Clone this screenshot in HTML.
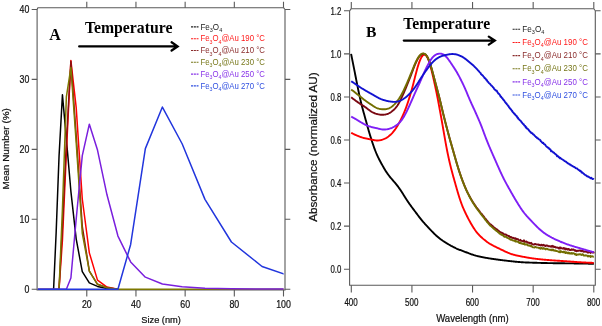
<!DOCTYPE html><html><head><meta charset="utf-8"><style>html,body{margin:0;padding:0;background:#fff;}svg{display:block;} svg{will-change:transform}</style></head><body>
<svg width="602" height="326" viewBox="0 0 602 326">
<rect width="602" height="326" fill="#fff"/>
<path d="M37.1,9.5 L37.1,290 L285,290 L285,9.5 M37.6,7.7 L283.5,7.7 M37.1,9.5 L37.9,7.7 M283.5,7.7 L285,9.5" fill="none" stroke="#5a5a5a" stroke-width="1.1"/><path d="M31.7,289.20 L37.1,289.20 M285,289.20 L290.3,289.20 M31.7,219.27 L37.1,219.27 M285,219.27 L290.3,219.27 M31.7,149.35 L37.1,149.35 M285,149.35 L290.3,149.35 M31.7,79.42 L37.1,79.42 M285,79.42 L290.3,79.42 M31.7,9.50 L37.1,9.50 M285,9.50 L290.3,9.50 M86.78,290 L86.78,296.6 M86.78,1.8 L86.78,7.7 M135.96,290 L135.96,296.6 M135.96,1.8 L135.96,7.7 M185.14,290 L185.14,296.6 M185.14,1.8 L185.14,7.7 M234.32,290 L234.32,296.6 M234.32,1.8 L234.32,7.7 M283.50,290 L283.50,296.6 M283.50,1.8 L283.50,7.7 " fill="none" stroke="#5a5a5a" stroke-width="1.1"/>
<text x="29.3" y="292.5" font-size="10.3" text-anchor="end" fill="#111" font-weight="normal" font-family='"Liberation Sans", sans-serif' textLength="4.9" lengthAdjust="spacingAndGlyphs" stroke="#111" stroke-width="0.22" >0</text>
<text x="29.3" y="222.575" font-size="10.3" text-anchor="end" fill="#111" font-weight="normal" font-family='"Liberation Sans", sans-serif' textLength="9.8" lengthAdjust="spacingAndGlyphs" stroke="#111" stroke-width="0.22" >10</text>
<text x="29.3" y="152.65" font-size="10.3" text-anchor="end" fill="#111" font-weight="normal" font-family='"Liberation Sans", sans-serif' textLength="9.8" lengthAdjust="spacingAndGlyphs" stroke="#111" stroke-width="0.22" >20</text>
<text x="29.3" y="82.72499999999998" font-size="10.3" text-anchor="end" fill="#111" font-weight="normal" font-family='"Liberation Sans", sans-serif' textLength="9.8" lengthAdjust="spacingAndGlyphs" stroke="#111" stroke-width="0.22" >30</text>
<text x="29.3" y="12.8" font-size="10.3" text-anchor="end" fill="#111" font-weight="normal" font-family='"Liberation Sans", sans-serif' textLength="9.8" lengthAdjust="spacingAndGlyphs" stroke="#111" stroke-width="0.22" >40</text>
<text x="86.78" y="307.8" font-size="10.3" text-anchor="middle" fill="#111" font-weight="normal" font-family='"Liberation Sans", sans-serif' textLength="9.8" lengthAdjust="spacingAndGlyphs" stroke="#111" stroke-width="0.22" >20</text>
<text x="135.96" y="307.8" font-size="10.3" text-anchor="middle" fill="#111" font-weight="normal" font-family='"Liberation Sans", sans-serif' textLength="9.8" lengthAdjust="spacingAndGlyphs" stroke="#111" stroke-width="0.22" >40</text>
<text x="185.14" y="307.8" font-size="10.3" text-anchor="middle" fill="#111" font-weight="normal" font-family='"Liberation Sans", sans-serif' textLength="9.8" lengthAdjust="spacingAndGlyphs" stroke="#111" stroke-width="0.22" >60</text>
<text x="234.32" y="307.8" font-size="10.3" text-anchor="middle" fill="#111" font-weight="normal" font-family='"Liberation Sans", sans-serif' textLength="9.8" lengthAdjust="spacingAndGlyphs" stroke="#111" stroke-width="0.22" >80</text>
<text x="283.5" y="307.8" font-size="10.3" text-anchor="middle" fill="#111" font-weight="normal" font-family='"Liberation Sans", sans-serif' textLength="14.700000000000001" lengthAdjust="spacingAndGlyphs" stroke="#111" stroke-width="0.22" >100</text>
<text x="141.3" y="323" font-size="9.6" text-anchor="start" fill="#111" font-weight="normal" font-family='"Liberation Sans", sans-serif' textLength="39.6" lengthAdjust="spacingAndGlyphs" stroke="#111" stroke-width="0.22" >Size (nm)</text>
<g transform="translate(9.0,189.6) rotate(-90)"><text x="0" y="0" font-size="9.5" text-anchor="start" fill="#111" font-weight="normal" font-family='"Liberation Sans", sans-serif' textLength="81.5" lengthAdjust="spacingAndGlyphs" stroke="#111" stroke-width="0.22" >Mean Number (%)</text></g>
<defs><clipPath id="ca"><rect x="37.6" y="0" width="246" height="291"/></clipPath><clipPath id="cb"><rect x="350" y="0" width="245" height="290"/></clipPath></defs>
<g clip-path="url(#ca)" fill="none" stroke-width="1.5" stroke-linejoin="round">
<path d="M53.59,289.20 L56.12,233.26 L59.04,156.34 L62.44,94.81 L66.37,138.86 L70.89,191.31 L76.18,238.85 L82.28,271.72 L89.34,282.91 L97.50,286.40 L106.97,288.50 L117.94,289.20" stroke="#000000"/>
<path d="M59.04,289.20 L62.44,240.25 L66.37,152.85 L70.89,60.55 L76.18,107.39 L82.28,199.00 L89.34,252.84 L97.50,280.11 L106.97,287.10 L117.94,289.20" stroke="#ff0000"/>
<path d="M59.04,289.20 L62.44,226.27 L66.37,142.36 L70.89,61.24 L76.18,135.37 L82.28,226.27 L89.34,271.02 L97.50,284.31 L106.97,287.80 L117.94,289.20" stroke="#8b1010"/>
<path d="M37.60,289.20 L49.52,289.20 L51.41,289.20 L53.59,289.20 L56.12,289.20 L59.04,289.20 L62.44,208.79 L66.37,96.91 L70.89,67.54 L76.18,142.36 L82.28,233.26 L89.34,271.02 L97.50,284.31 L106.97,287.80 L117.94,289.20 L130.65,289.20 L145.35,289.20 L162.39,289.20 L182.12,289.20 L204.96,289.20 L231.42,289.20 L262.06,289.20 L297.52,289.20" stroke="#7d7800"/>
<path d="M37.60,289.20 L49.52,289.20 L51.41,289.20 L53.59,289.20 L56.12,289.20 L59.04,289.20 L62.44,289.20 L66.37,289.20 L70.89,278.01 L76.18,219.27 L82.28,155.64 L89.34,124.18 L97.50,150.05 L106.97,194.80 L117.94,236.06 L130.65,261.93 L145.35,277.17 L162.39,284.03 L182.12,286.68 L204.96,288.15 L231.42,288.71 L262.06,288.99 L297.52,289.20" stroke="#7a1fdd"/>
<path d="M37.60,289.20 L49.52,289.20 L51.41,289.20 L53.59,289.20 L56.12,289.20 L59.04,289.20 L62.44,289.20 L66.37,289.20 L70.89,289.20 L76.18,289.20 L82.28,289.20 L89.34,289.20 L97.50,289.20 L106.97,289.20 L117.94,289.20 L130.65,244.45 L145.35,148.65 L162.39,107.05 L182.12,143.76 L204.96,199.35 L231.42,242.00 L262.06,266.47 L297.52,278.71" stroke="#2236dd"/>
</g>
<text x="49.3" y="39.8" font-size="16" text-anchor="start" fill="#000" font-weight="bold" font-family='"Liberation Serif", serif' >A</text>
<text x="84.9" y="32.8" font-size="16.8" text-anchor="start" fill="#000" font-weight="bold" font-family='"Liberation Serif", serif' textLength="87.5" lengthAdjust="spacingAndGlyphs" >Temperature</text>
<path d="M79.2,46.4 L177,46.4 M171.6,42.3 L177.6,46.4 L171.6,50.5" fill="none" stroke="#000" stroke-width="2.3" stroke-linecap="round" stroke-linejoin="miter"/>
<path d="M191,26.90 L198.5,26.90" stroke="#222222" stroke-width="1.1" stroke-dasharray="2.1,0.7"/>
<text x="200.4" y="29.5" font-size="8.9" text-anchor="start" fill="#222222" font-weight="normal" font-family='"Liberation Sans", sans-serif' textLength="21.8" lengthAdjust="spacingAndGlyphs" >Fe<tspan font-size="6.05" dy="2.4">3</tspan><tspan dy="-2.4">O</tspan><tspan font-size="6.05" dy="2.4">4</tspan></text>
<path d="M191,38.70 L198.5,38.70" stroke="#ff1a1a" stroke-width="1.1" stroke-dasharray="2.1,0.7"/>
<text x="200.4" y="41.3" font-size="8.9" text-anchor="start" fill="#ff1a1a" font-weight="normal" font-family='"Liberation Sans", sans-serif' textLength="64.5" lengthAdjust="spacingAndGlyphs" >Fe<tspan font-size="6.05" dy="2.4">3</tspan><tspan dy="-2.4">O</tspan><tspan font-size="6.05" dy="2.4">4</tspan><tspan dy="-2.4">@Au 190 °C</tspan></text>
<path d="M191,50.50 L198.5,50.50" stroke="#8a2c2c" stroke-width="1.1" stroke-dasharray="2.1,0.7"/>
<text x="200.4" y="53.1" font-size="8.9" text-anchor="start" fill="#8a2c2c" font-weight="normal" font-family='"Liberation Sans", sans-serif' textLength="64.5" lengthAdjust="spacingAndGlyphs" >Fe<tspan font-size="6.05" dy="2.4">3</tspan><tspan dy="-2.4">O</tspan><tspan font-size="6.05" dy="2.4">4</tspan><tspan dy="-2.4">@Au 210 °C</tspan></text>
<path d="M191,62.30 L198.5,62.30" stroke="#77771a" stroke-width="1.1" stroke-dasharray="2.1,0.7"/>
<text x="200.4" y="64.9" font-size="8.9" text-anchor="start" fill="#77771a" font-weight="normal" font-family='"Liberation Sans", sans-serif' textLength="64.5" lengthAdjust="spacingAndGlyphs" >Fe<tspan font-size="6.05" dy="2.4">3</tspan><tspan dy="-2.4">O</tspan><tspan font-size="6.05" dy="2.4">4</tspan><tspan dy="-2.4">@Au 230 °C</tspan></text>
<path d="M191,74.10 L198.5,74.10" stroke="#8833e8" stroke-width="1.1" stroke-dasharray="2.1,0.7"/>
<text x="200.4" y="76.7" font-size="8.9" text-anchor="start" fill="#8833e8" font-weight="normal" font-family='"Liberation Sans", sans-serif' textLength="64.5" lengthAdjust="spacingAndGlyphs" >Fe<tspan font-size="6.05" dy="2.4">3</tspan><tspan dy="-2.4">O</tspan><tspan font-size="6.05" dy="2.4">4</tspan><tspan dy="-2.4">@Au 250 °C</tspan></text>
<path d="M191,85.90 L198.5,85.90" stroke="#2f4fe0" stroke-width="1.1" stroke-dasharray="2.1,0.7"/>
<text x="200.4" y="88.5" font-size="8.9" text-anchor="start" fill="#2f4fe0" font-weight="normal" font-family='"Liberation Sans", sans-serif' textLength="64.5" lengthAdjust="spacingAndGlyphs" >Fe<tspan font-size="6.05" dy="2.4">3</tspan><tspan dy="-2.4">O</tspan><tspan font-size="6.05" dy="2.4">4</tspan><tspan dy="-2.4">@Au 270 °C</tspan></text>
<path d="M349.6,10.8 L349.6,285.3 L595.3,285.3 L595.3,10.8 M351.3,8.7 L593.8,8.7 M349.6,10.8 L351.3,8.7 M593.8,8.7 L595.3,10.8" fill="none" stroke="#5a5a5a" stroke-width="1.1"/><path d="M344,269.20 L349.6,269.20 M595.3,269.20 L600.6,269.20 M344,226.13 L349.6,226.13 M595.3,226.13 L600.6,226.13 M344,183.07 L349.6,183.07 M595.3,183.07 L600.6,183.07 M344,140.00 L349.6,140.00 M595.3,140.00 L600.6,140.00 M344,96.93 L349.6,96.93 M595.3,96.93 L600.6,96.93 M344,53.87 L349.6,53.87 M595.3,53.87 L600.6,53.87 M344,10.80 L349.6,10.80 M595.3,10.80 L600.6,10.80 M351.30,285.3 L351.30,292.6 M351.30,2 L351.30,8.7 M411.93,285.3 L411.93,292.6 M411.93,2 L411.93,8.7 M472.55,285.3 L472.55,292.6 M472.55,2 L472.55,8.7 M533.17,285.3 L533.17,292.6 M533.17,2 L533.17,8.7 M593.80,285.3 L593.80,292.6 M593.80,2 L593.80,8.7 " fill="none" stroke="#5a5a5a" stroke-width="1.1"/>
<text x="341.3" y="273.09999999999997" font-size="10.9" text-anchor="end" fill="#111" font-weight="normal" font-family='"Liberation Sans", sans-serif' textLength="10.9" lengthAdjust="spacingAndGlyphs" stroke="#111" stroke-width="0.22" >0.0</text>
<text x="341.3" y="230.03333333333333" font-size="10.9" text-anchor="end" fill="#111" font-weight="normal" font-family='"Liberation Sans", sans-serif' textLength="10.9" lengthAdjust="spacingAndGlyphs" stroke="#111" stroke-width="0.22" >0.2</text>
<text x="341.3" y="186.96666666666667" font-size="10.9" text-anchor="end" fill="#111" font-weight="normal" font-family='"Liberation Sans", sans-serif' textLength="10.9" lengthAdjust="spacingAndGlyphs" stroke="#111" stroke-width="0.22" >0.4</text>
<text x="341.3" y="143.9" font-size="10.9" text-anchor="end" fill="#111" font-weight="normal" font-family='"Liberation Sans", sans-serif' textLength="10.9" lengthAdjust="spacingAndGlyphs" stroke="#111" stroke-width="0.22" >0.6</text>
<text x="341.3" y="100.83333333333331" font-size="10.9" text-anchor="end" fill="#111" font-weight="normal" font-family='"Liberation Sans", sans-serif' textLength="10.9" lengthAdjust="spacingAndGlyphs" stroke="#111" stroke-width="0.22" >0.8</text>
<text x="341.3" y="57.76666666666667" font-size="10.9" text-anchor="end" fill="#111" font-weight="normal" font-family='"Liberation Sans", sans-serif' textLength="10.9" lengthAdjust="spacingAndGlyphs" stroke="#111" stroke-width="0.22" >1.0</text>
<text x="341.3" y="14.700000000000012" font-size="10.9" text-anchor="end" fill="#111" font-weight="normal" font-family='"Liberation Sans", sans-serif' textLength="10.9" lengthAdjust="spacingAndGlyphs" stroke="#111" stroke-width="0.22" >1.2</text>
<text x="351.1" y="306.0" font-size="10.9" text-anchor="middle" fill="#111" font-weight="normal" font-family='"Liberation Sans", sans-serif' textLength="13.4" lengthAdjust="spacingAndGlyphs" stroke="#111" stroke-width="0.22" >400</text>
<text x="411.725" y="306.0" font-size="10.9" text-anchor="middle" fill="#111" font-weight="normal" font-family='"Liberation Sans", sans-serif' textLength="13.4" lengthAdjust="spacingAndGlyphs" stroke="#111" stroke-width="0.22" >500</text>
<text x="472.34999999999997" y="306.0" font-size="10.9" text-anchor="middle" fill="#111" font-weight="normal" font-family='"Liberation Sans", sans-serif' textLength="13.4" lengthAdjust="spacingAndGlyphs" stroke="#111" stroke-width="0.22" >600</text>
<text x="532.9749999999999" y="306.0" font-size="10.9" text-anchor="middle" fill="#111" font-weight="normal" font-family='"Liberation Sans", sans-serif' textLength="13.4" lengthAdjust="spacingAndGlyphs" stroke="#111" stroke-width="0.22" >700</text>
<text x="593.5999999999999" y="306.0" font-size="10.9" text-anchor="middle" fill="#111" font-weight="normal" font-family='"Liberation Sans", sans-serif' textLength="13.4" lengthAdjust="spacingAndGlyphs" stroke="#111" stroke-width="0.22" >800</text>
<text x="436.2" y="322.4" font-size="10.4" text-anchor="start" fill="#111" font-weight="normal" font-family='"Liberation Sans", sans-serif' textLength="72.4" lengthAdjust="spacingAndGlyphs" stroke="#111" stroke-width="0.22" >Wavelength (nm)</text>
<g transform="translate(317.1,221.8) rotate(-90)"><text x="0" y="0" font-size="10.9" text-anchor="start" fill="#111" font-weight="normal" font-family='"Liberation Sans", sans-serif' textLength="149.5" lengthAdjust="spacingAndGlyphs" stroke="#111" stroke-width="0.22" >Absorbance (normalized AU)</text></g>
<g clip-path="url(#cb)" fill="none" stroke-width="1.9" stroke-linejoin="round">
<path d="M351.10,53.84 L351.30,54.84 L351.50,55.85 L351.70,56.86 L351.90,57.86 L352.10,58.86 L352.30,59.86 L352.50,60.86 L352.70,61.86 L352.90,62.86 L353.10,63.85 L353.30,64.85 L353.50,65.85 L353.70,66.86 L353.90,67.86 L354.10,68.87 L354.30,69.88 L354.50,70.89 L354.70,71.91 L354.90,72.93 L355.10,73.95 L355.30,74.98 L355.50,76.00 L355.70,77.03 L355.90,78.05 L356.10,79.08 L356.30,80.10 L356.50,81.12 L356.70,82.14 L356.90,83.16 L357.10,84.17 L357.30,85.17 L357.50,86.17 L357.70,87.16 L357.90,88.14 L358.10,89.12 L358.30,90.09 L358.50,91.06 L358.70,92.01 L358.90,92.96 L359.10,93.90 L359.30,94.83 L359.50,95.75 L359.70,96.66 L359.90,97.56 L360.10,98.45 L360.30,99.34 L360.50,100.21 L360.70,101.07 L360.90,101.92 L361.10,102.75 L361.30,103.58 L361.50,104.39 L361.70,105.18 L361.90,105.97 L362.10,106.74 L362.30,107.50 L362.50,108.25 L362.70,109.00 L362.90,109.74 L363.10,110.47 L363.30,111.20 L363.50,111.92 L363.70,112.64 L363.90,113.36 L364.10,114.08 L364.30,114.81 L364.50,115.53 L364.70,116.25 L364.90,116.98 L365.10,117.70 L365.30,118.43 L365.50,119.16 L365.70,119.89 L365.90,120.62 L366.10,121.35 L366.30,122.08 L366.50,122.81 L366.70,123.55 L366.90,124.28 L367.10,125.01 L367.30,125.74 L367.50,126.46 L367.70,127.18 L367.90,127.89 L368.10,128.60 L368.30,129.30 L368.50,130.00 L368.70,130.69 L368.90,131.37 L369.10,132.05 L369.30,132.72 L369.50,133.38 L369.70,134.04 L369.90,134.70 L370.10,135.35 L370.30,135.99 L370.50,136.63 L370.70,137.27 L370.90,137.90 L371.10,138.53 L371.30,139.15 L371.50,139.77 L371.70,140.39 L371.90,141.01 L372.10,141.62 L372.30,142.23 L372.50,142.84 L372.70,143.44 L372.90,144.04 L373.10,144.63 L373.30,145.22 L373.50,145.80 L373.70,146.38 L373.90,146.95 L374.30,148.07 L374.70,149.16 L375.10,150.23 L375.50,151.27 L375.90,152.27 L376.30,153.25 L376.70,154.19 L377.10,155.09 L377.50,155.97 L377.90,156.82 L378.30,157.64 L378.70,158.44 L379.10,159.23 L379.50,160.00 L379.90,160.75 L380.30,161.50 L380.70,162.24 L381.10,162.97 L381.50,163.70 L381.90,164.43 L382.30,165.15 L382.70,165.86 L383.10,166.57 L383.50,167.28 L383.90,167.97 L384.30,168.66 L384.70,169.34 L385.10,170.00 L385.50,170.65 L385.90,171.28 L386.30,171.89 L386.70,172.49 L387.10,173.07 L387.50,173.64 L387.90,174.19 L388.30,174.74 L388.70,175.27 L389.10,175.79 L389.50,176.30 L389.90,176.80 L390.30,177.29 L390.70,177.78 L391.10,178.26 L391.50,178.74 L391.90,179.21 L392.30,179.68 L392.70,180.14 L393.10,180.61 L393.50,181.07 L393.90,181.54 L394.30,182.00 L394.70,182.48 L395.10,182.95 L395.50,183.43 L395.90,183.91 L396.30,184.40 L396.70,184.90 L397.10,185.41 L397.50,185.93 L397.90,186.45 L398.30,186.99 L398.70,187.53 L399.10,188.09 L399.50,188.65 L399.90,189.22 L400.30,189.80 L400.70,190.39 L401.10,190.99 L401.50,191.60 L401.90,192.22 L402.30,192.85 L402.70,193.48 L403.10,194.12 L403.50,194.76 L403.90,195.40 L404.30,196.04 L404.70,196.69 L405.10,197.33 L405.50,197.96 L405.90,198.59 L406.30,199.21 L406.70,199.83 L407.10,200.44 L407.50,201.04 L407.90,201.63 L408.30,202.22 L408.70,202.80 L409.10,203.38 L409.50,203.95 L409.90,204.51 L410.30,205.07 L410.70,205.63 L411.10,206.17 L411.50,206.72 L411.90,207.26 L412.30,207.79 L412.70,208.33 L413.10,208.86 L413.50,209.39 L413.90,209.92 L414.30,210.45 L414.70,210.98 L415.10,211.51 L415.50,212.04 L415.90,212.57 L416.30,213.11 L416.70,213.64 L417.10,214.18 L417.50,214.72 L417.90,215.25 L418.30,215.78 L418.70,216.31 L419.10,216.84 L419.50,217.36 L419.90,217.87 L420.30,218.39 L420.70,218.89 L421.10,219.39 L421.50,219.88 L421.90,220.37 L422.30,220.85 L422.70,221.32 L423.10,221.79 L423.50,222.25 L423.90,222.70 L424.30,223.16 L424.70,223.61 L425.30,224.27 L425.90,224.93 L426.50,225.58 L427.10,226.23 L427.70,226.87 L428.30,227.51 L428.90,228.15 L429.50,228.79 L430.10,229.43 L430.70,230.06 L431.30,230.69 L431.90,231.32 L432.50,231.93 L433.10,232.54 L433.70,233.15 L434.30,233.74 L434.90,234.32 L435.50,234.89 L436.10,235.45 L436.70,235.99 L437.30,236.52 L437.90,237.04 L438.50,237.54 L439.10,238.03 L439.70,238.50 L440.30,238.96 L440.90,239.40 L441.50,239.84 L442.10,240.26 L442.70,240.68 L443.30,241.08 L443.90,241.48 L444.50,241.87 L445.10,242.25 L445.70,242.63 L446.30,243.00 L446.90,243.37 L447.50,243.73 L448.10,244.09 L448.70,244.45 L449.30,244.80 L449.90,245.14 L450.50,245.48 L451.10,245.82 L451.70,246.14 L452.30,246.46 L452.90,246.78 L453.50,247.09 L454.10,247.39 L454.70,247.68 L455.30,247.97 L455.90,248.25 L456.50,248.51 L457.10,248.78 L457.70,249.03 L458.30,249.28 L458.90,249.52 L459.50,249.76 L460.10,249.99 L460.70,250.22 L461.30,250.45 L461.90,250.68 L462.50,250.90 L463.10,251.12 L463.70,251.35 L464.30,251.57 L464.90,251.80 L465.50,252.03 L466.10,252.26 L466.70,252.49 L467.30,252.73 L467.90,252.96 L468.50,253.19 L469.10,253.43 L469.70,253.65 L470.30,253.88 L470.90,254.10 L471.50,254.31 L472.10,254.52 L472.70,254.72 L473.30,254.92 L473.90,255.11 L474.50,255.29 L475.10,255.46 L475.70,255.63 L476.30,255.80 L476.90,255.95 L477.50,256.11 L478.10,256.25 L478.70,256.40 L479.30,256.53 L479.90,256.67 L480.50,256.80 L481.10,256.93 L481.70,257.05 L482.30,257.17 L482.90,257.28 L483.50,257.40 L484.10,257.51 L484.70,257.62 L485.30,257.73 L485.90,257.83 L486.50,257.94 L487.10,258.04 L487.70,258.14 L488.30,258.24 L488.90,258.33 L489.50,258.43 L490.10,258.52 L490.70,258.62 L491.30,258.71 L491.90,258.80 L492.50,258.89 L493.10,258.97 L493.70,259.06 L494.30,259.14 L494.90,259.23 L495.50,259.31 L496.10,259.39 L496.70,259.47 L497.30,259.55 L497.90,259.63 L498.50,259.71 L499.10,259.79 L499.70,259.87 L500.30,259.94 L500.90,260.02 L501.50,260.09 L502.10,260.17 L502.70,260.24 L503.30,260.32 L503.90,260.39 L504.50,260.46 L505.10,260.53 L505.70,260.60 L506.30,260.68 L506.90,260.75 L507.50,260.82 L508.10,260.89 L508.70,260.96 L509.30,261.02 L509.90,261.09 L510.50,261.16 L511.10,261.23 L511.70,261.30 L512.30,261.36 L512.90,261.43 L513.50,261.49 L514.10,261.55 L514.70,261.62 L515.30,261.68 L515.90,261.74 L516.50,261.79 L517.10,261.85 L517.70,261.90 L518.30,261.96 L518.90,262.01 L519.50,262.06 L520.10,262.10 L520.70,262.15 L521.30,262.19 L521.90,262.23 L522.50,262.27 L523.10,262.30 L523.70,262.34 L524.30,262.37 L524.90,262.40 L525.50,262.43 L526.10,262.45 L526.70,262.48 L527.30,262.50 L527.90,262.53 L528.50,262.55 L529.10,262.57 L529.70,262.59 L530.30,262.61 L530.90,262.63 L531.50,262.65 L532.10,262.67 L532.70,262.69 L533.30,262.71 L533.90,262.73 L534.50,262.75 L535.10,262.77 L535.70,262.78 L536.30,262.80 L536.90,262.82 L537.50,262.84 L538.10,262.85 L538.70,262.87 L539.30,262.89 L539.90,262.90 L540.50,262.92 L541.10,262.93 L541.70,262.95 L542.30,262.96 L542.90,262.98 L543.50,262.99 L544.10,263.00 L544.70,263.02 L545.30,263.03 L545.90,263.04 L546.50,263.06 L547.10,263.07 L547.70,263.08 L548.30,263.09 L548.90,263.10 L549.50,263.12 L550.10,263.13 L550.70,263.14 L551.30,263.15 L551.90,263.16 L552.50,263.17 L553.10,263.18 L553.70,263.19 L554.30,263.20 L554.90,263.20 L555.50,263.21 L556.10,263.22 L556.70,263.23 L557.30,263.24 L557.90,263.24 L558.50,263.25 L559.10,263.26 L559.70,263.27 L560.30,263.27 L560.90,263.28 L561.50,263.29 L562.10,263.29 L562.70,263.30 L563.30,263.31 L563.90,263.31 L564.50,263.32 L565.10,263.33 L565.70,263.33 L566.30,263.34 L566.90,263.35 L567.50,263.35 L568.10,263.36 L568.70,263.37 L569.30,263.37 L569.90,263.38 L570.50,263.39 L571.10,263.39 L571.70,263.40 L572.30,263.41 L572.90,263.41 L573.50,263.42 L574.10,263.43 L574.70,263.44 L575.30,263.44 L575.90,263.45 L576.50,263.46 L577.10,263.47 L577.70,263.48 L578.30,263.49 L578.90,263.50 L579.50,263.51 L580.10,263.52 L580.70,263.53 L581.30,263.54 L581.90,263.55 L582.50,263.56 L583.10,263.57 L583.70,263.58 L584.30,263.59 L584.90,263.61 L585.50,263.62 L586.10,263.63 L586.70,263.64 L587.30,263.66 L587.90,263.67 L588.50,263.68 L589.10,263.69 L589.70,263.71 L590.30,263.72 L590.90,263.73 L591.50,263.75 L592.10,263.76 L592.70,263.77 L593.30,263.79 L593.90,263.80" stroke="#000000"/>
<path d="M351.20,132.76 L351.80,133.08 L352.40,133.40 L353.00,133.72 L353.60,134.03 L354.20,134.34 L354.80,134.64 L355.40,134.93 L356.00,135.21 L356.60,135.48 L357.20,135.73 L357.80,135.98 L358.40,136.22 L359.00,136.45 L359.60,136.67 L360.20,136.88 L360.80,137.08 L361.40,137.27 L362.00,137.46 L362.60,137.63 L363.20,137.80 L363.80,137.96 L364.40,138.11 L365.00,138.26 L365.60,138.40 L366.20,138.53 L366.80,138.66 L367.40,138.78 L368.00,138.90 L368.60,139.02 L369.20,139.14 L369.80,139.27 L370.40,139.39 L371.00,139.51 L371.60,139.63 L372.20,139.76 L372.80,139.88 L373.40,140.00 L374.00,140.11 L374.60,140.21 L375.20,140.30 L375.80,140.37 L376.40,140.43 L377.00,140.46 L377.60,140.46 L378.20,140.44 L378.80,140.39 L379.40,140.33 L380.00,140.23 L380.60,140.12 L381.20,139.98 L381.80,139.82 L382.40,139.64 L383.00,139.44 L383.60,139.22 L384.20,138.98 L384.80,138.72 L385.40,138.43 L386.00,138.11 L386.60,137.77 L387.20,137.40 L387.80,136.99 L388.40,136.56 L389.00,136.10 L389.60,135.60 L390.20,135.08 L390.80,134.52 L391.40,133.93 L392.00,133.30 L392.60,132.64 L393.00,132.18 L393.40,131.70 L393.80,131.21 L394.20,130.70 L394.60,130.17 L395.00,129.62 L395.40,129.06 L395.80,128.47 L396.20,127.87 L396.60,127.25 L397.00,126.61 L397.40,125.95 L397.80,125.27 L398.20,124.58 L398.60,123.88 L399.00,123.15 L399.40,122.42 L399.80,121.67 L400.20,120.91 L400.60,120.13 L401.00,119.34 L401.40,118.53 L401.80,117.71 L402.20,116.87 L402.60,116.01 L403.00,115.14 L403.40,114.24 L403.80,113.32 L404.20,112.37 L404.60,111.40 L405.00,110.39 L405.40,109.36 L405.80,108.31 L406.20,107.22 L406.60,106.11 L407.00,104.98 L407.20,104.40 L407.40,103.82 L407.60,103.23 L407.80,102.64 L408.00,102.03 L408.20,101.43 L408.40,100.81 L408.60,100.19 L408.80,99.57 L409.00,98.94 L409.20,98.30 L409.40,97.65 L409.60,97.00 L409.80,96.35 L410.00,95.68 L410.20,95.01 L410.40,94.34 L410.60,93.66 L410.80,92.97 L411.00,92.27 L411.20,91.57 L411.40,90.86 L411.60,90.15 L411.80,89.42 L412.00,88.69 L412.20,87.95 L412.40,87.21 L412.60,86.46 L412.80,85.70 L413.00,84.94 L413.20,84.17 L413.40,83.40 L413.60,82.62 L413.80,81.84 L414.00,81.05 L414.20,80.26 L414.40,79.47 L414.60,78.68 L414.80,77.89 L415.00,77.10 L415.20,76.31 L415.40,75.52 L415.60,74.74 L415.80,73.96 L416.00,73.19 L416.20,72.43 L416.40,71.67 L416.60,70.93 L416.80,70.19 L417.00,69.46 L417.20,68.74 L417.40,68.04 L417.60,67.35 L417.80,66.67 L418.00,66.00 L418.20,65.35 L418.40,64.72 L418.60,64.10 L418.80,63.50 L419.00,62.92 L419.40,61.81 L419.80,60.77 L420.20,59.81 L420.60,58.92 L421.00,58.11 L421.40,57.37 L421.80,56.72 L422.20,56.15 L422.60,55.66 L423.20,55.10 L423.80,54.75 L424.40,54.61 L425.00,54.70 L425.60,55.03 L426.20,55.60 L426.60,56.11 L427.00,56.74 L427.40,57.47 L427.80,58.30 L428.20,59.24 L428.60,60.27 L429.00,61.40 L429.20,61.99 L429.40,62.61 L429.60,63.25 L429.80,63.90 L430.00,64.58 L430.20,65.27 L430.40,65.98 L430.60,66.71 L430.80,67.45 L431.00,68.21 L431.20,68.98 L431.40,69.76 L431.60,70.56 L431.80,71.37 L432.00,72.19 L432.20,73.02 L432.40,73.86 L432.60,74.71 L432.80,75.57 L433.00,76.44 L433.20,77.31 L433.40,78.19 L433.60,79.08 L433.80,79.98 L434.00,80.88 L434.20,81.78 L434.40,82.69 L434.60,83.61 L434.80,84.52 L435.00,85.45 L435.20,86.38 L435.40,87.31 L435.60,88.25 L435.80,89.20 L436.00,90.15 L436.20,91.11 L436.40,92.08 L436.60,93.06 L436.80,94.04 L437.00,95.03 L437.20,96.04 L437.40,97.05 L437.60,98.07 L437.80,99.10 L438.00,100.14 L438.20,101.19 L438.40,102.25 L438.60,103.31 L438.80,104.38 L439.00,105.46 L439.20,106.54 L439.40,107.62 L439.60,108.71 L439.80,109.80 L440.00,110.90 L440.20,111.99 L440.40,113.09 L440.60,114.20 L440.80,115.30 L441.00,116.41 L441.20,117.53 L441.40,118.64 L441.60,119.77 L441.80,120.89 L442.00,122.03 L442.20,123.16 L442.40,124.30 L442.60,125.45 L442.80,126.60 L443.00,127.75 L443.20,128.90 L443.40,130.05 L443.60,131.20 L443.80,132.36 L444.00,133.51 L444.20,134.65 L444.40,135.80 L444.60,136.94 L444.80,138.07 L445.00,139.20 L445.20,140.32 L445.40,141.44 L445.60,142.55 L445.80,143.64 L446.00,144.73 L446.20,145.81 L446.40,146.88 L446.60,147.93 L446.80,148.97 L447.00,150.00 L447.20,151.01 L447.40,152.01 L447.60,153.00 L447.80,153.97 L448.00,154.93 L448.20,155.88 L448.40,156.82 L448.60,157.74 L448.80,158.65 L449.00,159.55 L449.20,160.44 L449.40,161.31 L449.60,162.18 L449.80,163.03 L450.00,163.88 L450.20,164.71 L450.40,165.53 L450.60,166.34 L450.80,167.15 L451.00,167.94 L451.20,168.72 L451.40,169.50 L451.60,170.27 L451.80,171.03 L452.00,171.79 L452.20,172.53 L452.40,173.28 L452.60,174.01 L452.80,174.74 L453.00,175.47 L453.20,176.19 L453.40,176.91 L453.60,177.62 L453.80,178.34 L454.00,179.05 L454.20,179.76 L454.40,180.47 L454.60,181.17 L454.80,181.88 L455.00,182.59 L455.20,183.30 L455.40,184.00 L455.60,184.71 L455.80,185.42 L456.00,186.12 L456.20,186.83 L456.40,187.53 L456.60,188.23 L456.80,188.93 L457.00,189.62 L457.20,190.31 L457.40,191.00 L457.60,191.68 L457.80,192.36 L458.00,193.04 L458.20,193.70 L458.40,194.37 L458.60,195.03 L458.80,195.68 L459.00,196.32 L459.20,196.96 L459.40,197.59 L459.60,198.21 L459.80,198.82 L460.00,199.43 L460.20,200.03 L460.40,200.62 L460.60,201.20 L460.80,201.77 L461.20,202.89 L461.60,203.98 L462.00,205.03 L462.40,206.05 L462.80,207.04 L463.20,208.00 L463.60,208.93 L464.00,209.83 L464.40,210.72 L464.80,211.59 L465.20,212.44 L465.60,213.28 L466.00,214.11 L466.40,214.92 L466.80,215.72 L467.20,216.52 L467.60,217.30 L468.00,218.07 L468.40,218.84 L468.80,219.59 L469.20,220.34 L469.60,221.07 L470.00,221.80 L470.40,222.52 L470.80,223.22 L471.20,223.92 L471.60,224.60 L472.00,225.28 L472.40,225.94 L472.80,226.60 L473.20,227.24 L473.60,227.87 L474.00,228.48 L474.40,229.08 L474.80,229.67 L475.20,230.24 L475.60,230.80 L476.00,231.33 L476.40,231.86 L476.80,232.36 L477.20,232.85 L477.60,233.33 L478.00,233.79 L478.40,234.24 L479.00,234.89 L479.60,235.52 L480.20,236.12 L480.80,236.70 L481.40,237.26 L482.00,237.81 L482.60,238.34 L483.20,238.85 L483.80,239.36 L484.40,239.85 L485.00,240.34 L485.60,240.81 L486.20,241.27 L486.80,241.72 L487.40,242.15 L488.00,242.57 L488.60,242.97 L489.20,243.35 L489.80,243.73 L490.40,244.09 L491.00,244.44 L491.60,244.78 L492.20,245.11 L492.80,245.43 L493.40,245.75 L494.00,246.05 L494.60,246.36 L495.20,246.66 L495.80,246.95 L496.40,247.25 L497.00,247.54 L497.60,247.84 L498.20,248.13 L498.80,248.43 L499.40,248.72 L500.00,249.01 L500.60,249.30 L501.20,249.59 L501.80,249.88 L502.40,250.16 L503.00,250.45 L503.60,250.73 L504.20,251.02 L504.80,251.30 L505.40,251.58 L506.00,251.85 L506.60,252.13 L507.20,252.40 L507.80,252.67 L508.40,252.92 L509.00,253.17 L509.60,253.41 L510.20,253.63 L510.80,253.84 L511.40,254.05 L512.00,254.24 L512.60,254.42 L513.20,254.60 L513.80,254.76 L514.40,254.92 L515.00,255.08 L515.60,255.22 L516.20,255.36 L516.80,255.50 L517.40,255.63 L518.00,255.76 L518.60,255.88 L519.20,256.00 L519.80,256.12 L520.40,256.24 L521.00,256.35 L521.60,256.47 L522.20,256.58 L522.80,256.70 L523.40,256.81 L524.00,256.93 L524.60,257.04 L525.20,257.15 L525.80,257.26 L526.40,257.37 L527.00,257.48 L527.60,257.59 L528.20,257.69 L528.80,257.79 L529.40,257.89 L530.00,257.99 L530.60,258.08 L531.20,258.18 L531.80,258.27 L532.40,258.35 L533.00,258.44 L533.60,258.52 L534.20,258.60 L534.80,258.68 L535.40,258.75 L536.00,258.83 L536.60,258.90 L537.20,258.97 L537.80,259.04 L538.40,259.10 L539.00,259.17 L539.60,259.23 L540.20,259.29 L540.80,259.36 L541.40,259.41 L542.00,259.47 L542.60,259.53 L543.20,259.59 L543.80,259.64 L544.40,259.70 L545.00,259.75 L545.60,259.80 L546.20,259.86 L546.80,259.91 L547.40,259.96 L548.00,260.01 L548.60,260.05 L549.20,260.10 L549.80,260.15 L550.40,260.20 L551.00,260.24 L551.60,260.29 L552.20,260.33 L552.80,260.37 L553.40,260.42 L554.00,260.46 L554.60,260.50 L555.20,260.54 L555.80,260.58 L556.40,260.62 L557.00,260.66 L557.60,260.70 L558.20,260.74 L558.80,260.77 L559.40,260.81 L560.00,260.85 L560.60,260.89 L561.20,260.93 L561.80,260.97 L562.40,261.00 L563.00,261.04 L563.60,261.08 L564.20,261.12 L564.80,261.16 L565.40,261.20 L566.00,261.24 L566.60,261.28 L567.20,261.33 L567.80,261.37 L568.40,261.41 L569.00,261.46 L569.60,261.50 L570.20,261.55 L570.80,261.59 L571.40,261.64 L572.00,261.69 L572.60,261.73 L573.20,261.78 L573.80,261.82 L574.40,261.87 L575.00,261.91 L575.60,261.95 L576.20,262.00 L576.80,262.04 L577.40,262.08 L578.00,262.12 L578.60,262.16 L579.20,262.20 L579.80,262.24 L580.40,262.28 L581.00,262.31 L581.60,262.34 L582.20,262.38 L582.80,262.41 L583.40,262.44 L584.00,262.47 L584.60,262.50 L585.20,262.53 L585.80,262.56 L586.40,262.59 L587.00,262.62 L587.60,262.64 L588.20,262.67 L588.80,262.69 L589.40,262.72 L590.00,262.74 L590.60,262.77 L591.20,262.79 L591.80,262.82 L592.40,262.84 L593.00,262.87 L593.60,262.89 L593.80,262.90" stroke="#ff0000"/>
<path d="M351.20,97.32 L351.80,97.78 L352.40,98.24 L353.00,98.69 L353.60,99.15 L354.20,99.60 L354.80,100.05 L355.40,100.50 L356.00,100.94 L356.60,101.37 L357.20,101.80 L357.80,102.22 L358.40,102.64 L359.00,103.05 L359.60,103.45 L360.20,103.83 L360.80,104.22 L361.40,104.59 L362.00,104.97 L362.60,105.35 L363.20,105.73 L363.80,106.12 L364.40,106.53 L365.00,106.95 L365.60,107.38 L366.20,107.83 L366.80,108.28 L367.40,108.74 L368.00,109.20 L368.60,109.65 L369.20,110.10 L369.80,110.54 L370.40,110.96 L371.00,111.36 L371.60,111.74 L372.20,112.10 L372.80,112.42 L373.40,112.72 L374.00,113.00 L374.60,113.25 L375.20,113.48 L375.80,113.69 L376.40,113.87 L377.00,114.04 L377.60,114.19 L378.20,114.33 L378.80,114.44 L379.40,114.54 L380.00,114.62 L380.60,114.68 L381.20,114.73 L381.80,114.76 L382.40,114.77 L383.00,114.75 L383.60,114.72 L384.20,114.66 L384.80,114.58 L385.40,114.48 L386.00,114.35 L386.60,114.19 L387.20,114.00 L387.80,113.78 L388.40,113.53 L389.00,113.25 L389.60,112.94 L390.20,112.59 L390.80,112.21 L391.40,111.79 L392.00,111.34 L392.60,110.86 L393.20,110.34 L393.80,109.79 L394.40,109.20 L395.00,108.58 L395.60,107.91 L396.00,107.44 L396.40,106.93 L396.80,106.40 L397.20,105.84 L397.60,105.25 L398.00,104.62 L398.40,103.95 L398.80,103.25 L399.20,102.53 L399.60,101.77 L400.00,100.99 L400.40,100.20 L400.80,99.38 L401.20,98.55 L401.60,97.70 L402.00,96.84 L402.40,95.96 L402.80,95.08 L403.20,94.18 L403.60,93.27 L404.00,92.34 L404.40,91.41 L404.80,90.47 L405.20,89.52 L405.60,88.56 L406.00,87.59 L406.40,86.62 L406.80,85.64 L407.20,84.66 L407.60,83.68 L408.00,82.69 L408.40,81.70 L408.80,80.71 L409.20,79.71 L409.60,78.70 L410.00,77.69 L410.40,76.66 L410.80,75.63 L411.20,74.58 L411.60,73.53 L412.00,72.46 L412.40,71.40 L412.80,70.33 L413.20,69.27 L413.60,68.23 L414.00,67.19 L414.40,66.18 L414.80,65.19 L415.20,64.23 L415.60,63.30 L416.00,62.40 L416.40,61.54 L416.80,60.72 L417.20,59.94 L417.60,59.20 L418.00,58.51 L418.40,57.86 L418.80,57.27 L419.20,56.71 L419.60,56.21 L420.00,55.76 L420.60,55.16 L421.20,54.67 L421.80,54.28 L422.40,54.00 L423.00,53.83 L423.60,53.79 L424.20,53.87 L424.80,54.10 L425.40,54.48 L426.00,55.03 L426.40,55.50 L426.80,56.06 L427.20,56.69 L427.60,57.41 L428.00,58.21 L428.40,59.09 L428.80,60.05 L429.20,61.08 L429.60,62.18 L429.80,62.76 L430.00,63.35 L430.20,63.96 L430.40,64.58 L430.60,65.21 L430.80,65.86 L431.00,66.52 L431.20,67.19 L431.40,67.87 L431.60,68.57 L431.80,69.27 L432.00,69.98 L432.20,70.70 L432.40,71.42 L432.60,72.16 L432.80,72.90 L433.00,73.65 L433.20,74.40 L433.40,75.15 L433.60,75.91 L433.80,76.67 L434.00,77.44 L434.20,78.20 L434.40,78.97 L434.60,79.73 L434.80,80.50 L435.00,81.26 L435.20,82.02 L435.40,82.78 L435.60,83.54 L435.80,84.28 L436.00,85.03 L436.20,85.77 L436.40,86.51 L436.60,87.24 L436.80,87.98 L437.00,88.71 L437.20,89.45 L437.40,90.18 L437.60,90.92 L437.80,91.66 L438.00,92.41 L438.20,93.16 L438.40,93.91 L438.60,94.67 L438.80,95.44 L439.00,96.22 L439.20,97.01 L439.40,97.80 L439.60,98.61 L439.80,99.42 L440.00,100.24 L440.20,101.07 L440.40,101.90 L440.60,102.74 L440.80,103.58 L441.00,104.42 L441.20,105.26 L441.40,106.11 L441.60,106.95 L441.80,107.80 L442.00,108.64 L442.20,109.48 L442.40,110.31 L442.60,111.14 L442.80,111.97 L443.00,112.79 L443.20,113.61 L443.40,114.42 L443.60,115.23 L443.80,116.04 L444.00,116.84 L444.20,117.65 L444.40,118.45 L444.60,119.24 L444.80,120.04 L445.00,120.83 L445.20,121.62 L445.40,122.41 L445.60,123.19 L445.80,123.97 L446.00,124.75 L446.20,125.53 L446.40,126.30 L446.60,127.07 L446.80,127.84 L447.00,128.60 L447.20,129.36 L447.40,130.12 L447.60,130.88 L447.80,131.63 L448.00,132.37 L448.20,133.11 L448.40,133.85 L448.60,134.59 L448.80,135.32 L449.00,136.04 L449.20,136.76 L449.40,137.48 L449.60,138.20 L449.80,138.91 L450.00,139.62 L450.20,140.33 L450.40,141.04 L450.60,141.74 L450.80,142.44 L451.00,143.14 L451.20,143.84 L451.40,144.54 L451.60,145.24 L451.80,145.94 L452.00,146.64 L452.20,147.33 L452.40,148.03 L452.60,148.73 L452.80,149.43 L453.00,150.13 L453.20,150.83 L453.40,151.53 L453.60,152.23 L453.80,152.94 L454.00,153.64 L454.20,154.34 L454.40,155.05 L454.60,155.75 L454.80,156.45 L455.00,157.15 L455.20,157.85 L455.40,158.55 L455.60,159.24 L455.80,159.94 L456.00,160.63 L456.20,161.31 L456.40,162.00 L456.60,162.68 L456.80,163.36 L457.00,164.03 L457.20,164.70 L457.40,165.36 L457.60,166.02 L457.80,166.68 L458.00,167.33 L458.20,167.97 L458.40,168.61 L458.60,169.25 L458.80,169.88 L459.00,170.50 L459.20,171.12 L459.40,171.73 L459.60,172.33 L459.80,172.93 L460.00,173.52 L460.20,174.11 L460.40,174.69 L460.60,175.26 L460.80,175.83 L461.20,176.96 L461.60,178.06 L462.00,179.15 L462.40,180.23 L462.80,181.29 L463.20,182.34 L463.60,183.37 L464.00,184.39 L464.40,185.38 L464.80,186.36 L465.20,187.31 L465.60,188.24 L466.00,189.15 L466.40,190.03 L466.80,190.89 L467.20,191.73 L467.60,192.56 L468.00,193.37 L468.40,194.16 L468.80,194.94 L469.20,195.70 L469.60,196.45 L470.00,197.19 L470.40,197.92 L470.80,198.62 L471.20,199.32 L471.60,200.01 L472.00,200.67 L472.40,201.32 L472.80,201.98 L473.20,202.63 L473.60,203.22 L474.00,203.81 L474.40,204.43 L474.80,204.98 L475.20,205.55 L475.60,206.17 L476.00,206.73 L476.40,207.30 L476.80,207.78 L477.20,208.39 L477.60,208.83 L478.00,209.43 L478.40,209.86 L478.80,210.46 L479.20,210.96 L479.60,211.41 L480.00,211.99 L480.40,212.50 L480.80,213.01 L481.20,213.47 L481.60,213.99 L482.00,214.32 L482.40,215.04 L482.80,215.44 L483.20,215.83 L483.60,216.42 L484.00,216.85 L484.40,217.48 L484.80,217.98 L485.20,218.47 L485.60,218.83 L486.00,219.43 L486.40,220.11 L486.80,220.55 L487.20,220.85 L487.60,221.22 L488.00,221.79 L488.60,222.58 L489.20,223.15 L489.80,223.87 L490.40,224.38 L491.00,224.68 L491.60,225.39 L492.20,225.63 L492.80,226.33 L493.40,226.87 L494.00,227.36 L494.60,227.82 L495.20,228.30 L495.80,228.72 L496.40,229.21 L497.00,229.34 L497.60,230.09 L498.20,230.47 L498.80,230.90 L499.40,231.63 L500.00,231.87 L500.60,232.05 L501.20,232.68 L501.80,232.58 L502.40,233.29 L503.00,233.18 L503.60,234.04 L504.20,234.52 L504.80,234.41 L505.40,234.50 L506.00,234.51 L506.60,235.34 L507.20,235.37 L507.80,235.67 L508.40,236.09 L509.00,236.01 L509.60,236.62 L510.20,237.28 L510.80,236.87 L511.40,237.27 L512.00,237.74 L512.60,237.94 L513.20,237.82 L513.80,238.17 L514.40,238.19 L515.00,238.89 L515.60,238.28 L516.20,239.09 L516.80,238.92 L517.40,239.21 L518.00,239.11 L518.60,239.87 L519.20,240.40 L519.80,240.58 L520.40,239.87 L521.00,240.81 L521.60,240.87 L522.20,240.98 L522.80,241.29 L523.40,241.40 L524.00,240.28 L524.60,241.91 L525.20,241.85 L525.80,241.59 L526.40,241.47 L527.00,241.98 L527.60,242.55 L528.20,242.81 L528.80,242.49 L529.40,242.96 L530.00,242.92 L530.60,243.44 L531.20,242.82 L531.80,243.82 L532.40,244.16 L533.00,244.43 L533.60,244.39 L534.20,244.48 L534.80,244.05 L535.40,243.99 L536.00,244.38 L536.60,244.45 L537.20,244.52 L537.80,244.59 L538.40,244.48 L539.00,245.13 L539.60,244.77 L540.20,245.54 L540.80,244.99 L541.40,244.71 L542.00,245.47 L542.60,245.63 L543.20,244.75 L543.80,245.25 L544.40,245.10 L545.00,245.85 L545.60,246.08 L546.20,245.35 L546.80,245.37 L547.40,245.55 L548.00,246.05 L548.60,246.21 L549.20,246.28 L549.80,246.12 L550.40,246.38 L551.00,246.82 L551.60,245.93 L552.20,246.65 L552.80,245.88 L553.40,246.50 L554.00,247.11 L554.60,246.72 L555.20,246.89 L555.80,247.45 L556.40,247.41 L557.00,247.48 L557.60,247.65 L558.20,247.94 L558.80,248.47 L559.40,247.52 L560.00,248.69 L560.60,247.42 L561.20,247.98 L561.80,248.37 L562.40,248.33 L563.00,248.65 L563.60,247.89 L564.20,248.75 L564.80,248.35 L565.40,249.43 L566.00,248.59 L566.60,249.17 L567.20,248.99 L567.80,249.76 L568.40,248.89 L569.00,249.14 L569.60,249.97 L570.20,249.83 L570.80,249.99 L571.40,249.22 L572.00,249.99 L572.60,249.56 L573.20,249.51 L573.80,249.73 L574.40,250.35 L575.00,250.83 L575.60,250.23 L576.20,251.29 L576.80,251.13 L577.40,250.69 L578.00,250.70 L578.60,250.92 L579.20,250.56 L579.80,250.33 L580.40,250.52 L581.00,251.23 L581.60,251.11 L582.20,250.43 L582.80,250.60 L583.40,251.68 L584.00,251.67 L584.60,251.53 L585.20,251.79 L585.80,251.43 L586.40,251.72 L587.00,251.83 L587.60,252.49 L588.20,251.91 L588.80,252.43 L589.40,252.25 L590.00,251.79 L590.60,252.92 L591.20,252.32 L591.80,252.10 L592.40,252.34 L593.00,252.67 L593.60,252.35 L593.80,253.38" stroke="#7a0812"/>
<path d="M351.20,89.49 L351.80,89.95 L352.40,90.40 L353.00,90.86 L353.60,91.32 L354.20,91.79 L354.80,92.25 L355.40,92.72 L356.00,93.20 L356.60,93.67 L357.20,94.15 L357.80,94.64 L358.40,95.12 L359.00,95.61 L359.60,96.09 L360.20,96.58 L360.80,97.06 L361.40,97.55 L362.00,98.03 L362.60,98.51 L363.20,98.98 L363.80,99.44 L364.40,99.90 L365.00,100.35 L365.60,100.80 L366.20,101.23 L366.80,101.66 L367.40,102.08 L368.00,102.50 L368.60,102.91 L369.20,103.32 L369.80,103.72 L370.40,104.13 L371.00,104.53 L371.60,104.92 L372.20,105.32 L372.80,105.71 L373.40,106.10 L374.00,106.47 L374.60,106.83 L375.20,107.17 L375.80,107.49 L376.40,107.79 L377.00,108.05 L377.60,108.28 L378.20,108.49 L378.80,108.67 L379.40,108.82 L380.00,108.95 L380.60,109.06 L381.20,109.15 L381.80,109.22 L382.40,109.27 L383.00,109.30 L383.60,109.31 L384.20,109.30 L384.80,109.26 L385.40,109.20 L386.00,109.12 L386.60,109.01 L387.20,108.88 L387.80,108.71 L388.40,108.51 L389.00,108.27 L389.60,108.00 L390.20,107.68 L390.80,107.32 L391.40,106.92 L392.00,106.47 L392.60,105.99 L393.20,105.47 L393.80,104.92 L394.40,104.34 L395.00,103.73 L395.60,103.09 L396.20,102.42 L396.60,101.95 L397.00,101.46 L397.40,100.96 L397.80,100.43 L398.20,99.89 L398.60,99.32 L399.00,98.74 L399.40,98.13 L399.80,97.50 L400.20,96.86 L400.60,96.18 L401.00,95.49 L401.40,94.78 L401.80,94.04 L402.20,93.29 L402.60,92.51 L403.00,91.72 L403.40,90.91 L403.80,90.08 L404.20,89.24 L404.60,88.38 L405.00,87.51 L405.40,86.63 L405.80,85.74 L406.20,84.84 L406.60,83.93 L407.00,83.02 L407.40,82.10 L407.80,81.17 L408.20,80.24 L408.60,79.30 L409.00,78.35 L409.40,77.40 L409.80,76.43 L410.20,75.45 L410.60,74.47 L411.00,73.48 L411.40,72.49 L411.80,71.49 L412.20,70.51 L412.60,69.52 L413.00,68.54 L413.40,67.57 L413.80,66.61 L414.20,65.65 L414.60,64.71 L415.00,63.79 L415.40,62.89 L415.80,62.01 L416.20,61.16 L416.60,60.35 L417.00,59.57 L417.40,58.83 L417.80,58.14 L418.20,57.49 L418.60,56.89 L419.00,56.33 L419.40,55.82 L419.80,55.36 L420.40,54.77 L421.00,54.29 L421.60,53.92 L422.20,53.67 L422.80,53.54 L423.40,53.52 L424.00,53.62 L424.60,53.85 L425.20,54.23 L425.80,54.77 L426.20,55.23 L426.60,55.76 L427.00,56.37 L427.40,57.06 L427.80,57.83 L428.20,58.68 L428.60,59.61 L429.00,60.61 L429.40,61.68 L429.80,62.82 L430.00,63.41 L430.20,64.02 L430.40,64.64 L430.60,65.28 L430.80,65.93 L431.00,66.59 L431.20,67.26 L431.40,67.94 L431.60,68.63 L431.80,69.33 L432.00,70.05 L432.20,70.77 L432.40,71.49 L432.60,72.23 L432.80,72.97 L433.00,73.72 L433.20,74.47 L433.40,75.22 L433.60,75.98 L433.80,76.75 L434.00,77.51 L434.20,78.28 L434.40,79.04 L434.60,79.81 L434.80,80.58 L435.00,81.34 L435.20,82.10 L435.40,82.86 L435.60,83.62 L435.80,84.37 L436.00,85.11 L436.20,85.85 L436.40,86.59 L436.60,87.33 L436.80,88.07 L437.00,88.80 L437.20,89.54 L437.40,90.27 L437.60,91.01 L437.80,91.76 L438.00,92.50 L438.20,93.25 L438.40,94.01 L438.60,94.77 L438.80,95.54 L439.00,96.32 L439.20,97.11 L439.40,97.91 L439.60,98.71 L439.80,99.53 L440.00,100.35 L440.20,101.18 L440.40,102.01 L440.60,102.85 L440.80,103.69 L441.00,104.53 L441.20,105.38 L441.40,106.23 L441.60,107.07 L441.80,107.92 L442.00,108.76 L442.20,109.60 L442.40,110.43 L442.60,111.26 L442.80,112.09 L443.00,112.91 L443.20,113.73 L443.40,114.55 L443.60,115.36 L443.80,116.17 L444.00,116.98 L444.20,117.78 L444.40,118.58 L444.60,119.38 L444.80,120.18 L445.00,120.97 L445.20,121.76 L445.40,122.55 L445.60,123.33 L445.80,124.12 L446.00,124.90 L446.20,125.68 L446.40,126.45 L446.60,127.22 L446.80,127.99 L447.00,128.76 L447.20,129.52 L447.40,130.28 L447.60,131.03 L447.80,131.78 L448.00,132.53 L448.20,133.27 L448.40,134.01 L448.60,134.75 L448.80,135.48 L449.00,136.21 L449.20,136.93 L449.40,137.65 L449.60,138.37 L449.80,139.08 L450.00,139.79 L450.20,140.50 L450.40,141.21 L450.60,141.92 L450.80,142.62 L451.00,143.32 L451.20,144.02 L451.40,144.72 L451.60,145.42 L451.80,146.12 L452.00,146.82 L452.20,147.52 L452.40,148.22 L452.60,148.92 L452.80,149.62 L453.00,150.32 L453.20,151.02 L453.40,151.73 L453.60,152.43 L453.80,153.13 L454.00,153.84 L454.20,154.54 L454.40,155.25 L454.60,155.95 L454.80,156.65 L455.00,157.36 L455.20,158.06 L455.40,158.75 L455.60,159.45 L455.80,160.14 L456.00,160.84 L456.20,161.52 L456.40,162.21 L456.60,162.89 L456.80,163.57 L457.00,164.25 L457.20,164.92 L457.40,165.58 L457.60,166.24 L457.80,166.90 L458.00,167.55 L458.20,168.20 L458.40,168.84 L458.60,169.47 L458.80,170.10 L459.00,170.73 L459.20,171.35 L459.40,171.96 L459.60,172.56 L459.80,173.16 L460.00,173.76 L460.20,174.35 L460.40,174.93 L460.60,175.50 L460.80,176.07 L461.20,177.20 L461.60,178.31 L462.00,179.40 L462.40,180.48 L462.80,181.54 L463.20,182.59 L463.60,183.62 L464.00,184.64 L464.40,185.64 L464.80,186.62 L465.20,187.58 L465.60,188.51 L466.00,189.42 L466.40,190.30 L466.80,191.17 L467.20,192.01 L467.60,192.84 L468.00,193.65 L468.40,194.45 L468.80,195.24 L469.20,196.01 L469.60,196.78 L470.00,197.52 L470.40,198.26 L470.80,198.99 L471.20,199.69 L471.60,200.38 L472.00,201.08 L472.40,201.74 L472.80,202.40 L473.20,203.07 L473.60,203.73 L474.00,204.33 L474.40,204.93 L474.80,205.57 L475.20,206.12 L475.60,206.70 L476.00,207.34 L476.40,207.92 L476.80,208.51 L477.20,208.99 L477.60,209.62 L478.00,210.07 L478.40,210.68 L478.80,211.12 L479.20,211.75 L479.60,212.26 L480.00,212.73 L480.40,213.33 L480.80,213.86 L481.20,214.40 L481.60,214.87 L482.00,215.42 L482.40,215.76 L482.80,216.51 L483.20,216.94 L483.60,217.34 L484.00,217.96 L484.40,218.41 L484.80,219.07 L485.20,219.59 L485.60,220.10 L486.00,220.47 L486.40,221.08 L486.80,221.78 L487.20,222.22 L487.60,222.54 L488.00,222.91 L488.40,223.49 L488.80,224.08 L489.40,224.67 L490.00,225.41 L490.60,225.94 L491.20,226.26 L491.80,227.00 L492.40,227.26 L493.00,227.99 L493.60,228.56 L494.20,229.08 L494.80,229.58 L495.40,230.08 L496.00,230.54 L496.60,231.06 L497.20,231.22 L497.80,232.00 L498.40,232.41 L499.00,232.87 L499.60,233.62 L500.20,233.90 L500.80,234.10 L501.40,234.76 L502.00,234.68 L502.60,235.42 L503.20,235.34 L503.80,236.23 L504.40,236.74 L505.00,236.65 L505.60,236.77 L506.20,236.81 L506.80,237.67 L507.40,237.72 L508.00,238.05 L508.60,238.49 L509.20,238.43 L509.80,239.06 L510.40,239.74 L511.00,239.34 L511.60,239.75 L512.20,240.23 L512.80,240.45 L513.40,240.34 L514.00,240.69 L514.60,240.72 L515.20,241.43 L515.80,240.82 L516.40,241.65 L517.00,241.48 L517.60,241.79 L518.20,241.70 L518.80,242.47 L519.40,243.01 L520.00,243.20 L520.60,242.51 L521.20,243.46 L521.80,243.54 L522.40,243.66 L523.00,243.99 L523.60,244.11 L524.20,243.00 L524.80,244.64 L525.40,244.60 L526.00,244.35 L526.60,244.24 L527.20,244.77 L527.80,245.35 L528.40,245.63 L529.00,245.31 L529.60,245.80 L530.20,245.78 L530.80,246.31 L531.40,245.70 L532.00,246.72 L532.60,247.07 L533.20,247.36 L533.80,247.34 L534.40,247.45 L535.00,247.03 L535.60,246.99 L536.20,247.40 L536.80,247.49 L537.40,247.58 L538.00,247.66 L538.60,247.58 L539.20,248.24 L539.80,247.91 L540.40,248.69 L541.00,248.17 L541.60,247.91 L542.20,248.69 L542.80,248.88 L543.40,248.01 L544.00,248.54 L544.60,248.41 L545.20,249.18 L545.80,249.43 L546.40,248.73 L547.00,248.76 L547.60,248.97 L548.20,249.48 L548.80,249.67 L549.40,249.76 L550.00,249.61 L550.60,249.90 L551.20,250.35 L551.80,249.48 L552.40,250.21 L553.00,249.46 L553.60,250.10 L554.20,250.72 L554.80,250.33 L555.40,250.52 L556.00,251.09 L556.60,251.06 L557.20,251.14 L557.80,251.31 L558.40,251.60 L559.00,252.15 L559.60,251.20 L560.20,252.37 L560.80,251.10 L561.40,251.67 L562.00,252.05 L562.60,252.01 L563.20,252.34 L563.80,251.58 L564.40,252.44 L565.00,252.03 L565.60,253.11 L566.20,252.28 L566.80,252.85 L567.40,252.68 L568.00,253.44 L568.60,252.57 L569.20,252.82 L569.80,253.65 L570.40,253.51 L571.00,253.67 L571.60,252.90 L572.20,253.67 L572.80,253.25 L573.40,253.20 L574.00,253.41 L574.60,254.04 L575.20,254.53 L575.80,253.92 L576.40,255.00 L577.00,254.84 L577.60,254.40 L578.20,254.42 L578.80,254.65 L579.40,254.29 L580.00,254.07 L580.60,254.28 L581.20,255.00 L581.80,254.88 L582.40,254.22 L583.00,254.40 L583.60,255.50 L584.20,255.50 L584.80,255.38 L585.40,255.65 L586.00,255.30 L586.60,255.62 L587.20,255.74 L587.80,256.42 L588.40,255.86 L589.00,256.39 L589.60,256.24 L590.20,255.79 L590.80,256.94 L591.40,256.36 L592.00,256.16 L592.60,256.41 L593.20,256.76 L593.80,256.46" stroke="#726e00"/>
<path d="M351.20,116.58 L351.80,116.91 L352.40,117.24 L353.00,117.57 L353.60,117.91 L354.20,118.25 L354.80,118.59 L355.40,118.93 L356.00,119.29 L356.60,119.64 L357.20,120.00 L357.80,120.37 L358.40,120.73 L359.00,121.10 L359.60,121.47 L360.20,121.84 L360.80,122.20 L361.40,122.56 L362.00,122.92 L362.60,123.27 L363.20,123.61 L363.80,123.94 L364.40,124.26 L365.00,124.56 L365.60,124.85 L366.20,125.12 L366.80,125.39 L367.40,125.63 L368.00,125.87 L368.60,126.10 L369.20,126.31 L369.80,126.51 L370.40,126.70 L371.00,126.88 L371.60,127.05 L372.20,127.21 L372.80,127.36 L373.40,127.50 L374.00,127.64 L374.60,127.77 L375.20,127.89 L375.80,128.02 L376.40,128.15 L377.00,128.28 L377.60,128.42 L378.20,128.57 L378.80,128.72 L379.40,128.87 L380.00,129.02 L380.60,129.15 L381.20,129.27 L381.80,129.37 L382.40,129.44 L383.00,129.49 L383.60,129.52 L384.20,129.52 L384.80,129.50 L385.40,129.46 L386.00,129.40 L386.60,129.33 L387.20,129.23 L387.80,129.11 L388.40,128.98 L389.00,128.83 L389.60,128.66 L390.20,128.46 L390.80,128.25 L391.40,128.02 L392.00,127.77 L392.60,127.49 L393.20,127.20 L393.80,126.88 L394.40,126.54 L395.00,126.18 L395.60,125.79 L396.20,125.39 L396.80,124.95 L397.40,124.49 L398.00,123.99 L398.60,123.46 L399.20,122.89 L399.80,122.27 L400.40,121.61 L400.80,121.14 L401.20,120.65 L401.60,120.13 L402.00,119.59 L402.40,119.02 L402.80,118.43 L403.20,117.82 L403.60,117.18 L404.00,116.51 L404.40,115.82 L404.80,115.11 L405.20,114.38 L405.60,113.63 L406.00,112.85 L406.40,112.06 L406.80,111.25 L407.20,110.43 L407.60,109.59 L408.00,108.74 L408.40,107.88 L408.80,107.01 L409.20,106.13 L409.60,105.25 L410.00,104.36 L410.40,103.46 L410.80,102.56 L411.20,101.66 L411.60,100.75 L412.00,99.84 L412.40,98.93 L412.80,98.02 L413.20,97.11 L413.60,96.20 L414.00,95.29 L414.40,94.38 L414.80,93.48 L415.20,92.58 L415.60,91.68 L416.00,90.79 L416.40,89.91 L416.80,89.04 L417.20,88.17 L417.60,87.31 L418.00,86.45 L418.40,85.59 L418.80,84.73 L419.20,83.86 L419.60,82.99 L420.00,82.11 L420.40,81.22 L420.80,80.31 L421.20,79.40 L421.60,78.47 L422.00,77.53 L422.40,76.59 L422.80,75.65 L423.20,74.72 L423.60,73.80 L424.00,72.89 L424.40,71.99 L424.80,71.11 L425.20,70.25 L425.60,69.39 L426.00,68.56 L426.40,67.74 L426.80,66.93 L427.20,66.14 L427.60,65.36 L428.00,64.60 L428.40,63.85 L428.80,63.11 L429.20,62.40 L429.60,61.70 L430.00,61.04 L430.40,60.39 L430.80,59.78 L431.20,59.20 L431.60,58.65 L432.00,58.13 L432.40,57.65 L432.80,57.20 L433.40,56.58 L434.00,56.03 L434.60,55.55 L435.20,55.13 L435.80,54.77 L436.40,54.46 L437.00,54.20 L437.60,53.99 L438.20,53.83 L438.80,53.71 L439.40,53.64 L440.00,53.62 L440.60,53.65 L441.20,53.73 L441.80,53.87 L442.40,54.06 L443.00,54.32 L443.60,54.65 L444.20,55.04 L444.80,55.49 L445.40,56.02 L446.00,56.60 L446.60,57.24 L447.00,57.70 L447.40,58.19 L447.80,58.69 L448.20,59.20 L448.60,59.74 L449.00,60.29 L449.40,60.85 L449.80,61.42 L450.20,62.00 L450.60,62.59 L451.00,63.18 L451.40,63.77 L451.80,64.37 L452.20,64.96 L452.60,65.57 L453.00,66.17 L453.40,66.78 L453.80,67.39 L454.20,68.00 L454.60,68.62 L455.00,69.25 L455.40,69.88 L455.80,70.52 L456.20,71.18 L456.60,71.85 L457.00,72.54 L457.40,73.24 L457.80,73.95 L458.20,74.68 L458.60,75.41 L459.00,76.16 L459.40,76.91 L459.80,77.68 L460.20,78.45 L460.60,79.23 L461.00,80.02 L461.40,80.82 L461.80,81.62 L462.20,82.44 L462.60,83.26 L463.00,84.09 L463.40,84.94 L463.80,85.79 L464.20,86.66 L464.60,87.55 L465.00,88.45 L465.40,89.36 L465.80,90.29 L466.20,91.23 L466.60,92.18 L467.00,93.14 L467.40,94.10 L467.80,95.07 L468.20,96.04 L468.60,97.00 L469.00,97.95 L469.40,98.89 L469.80,99.81 L470.20,100.72 L470.60,101.62 L471.00,102.51 L471.40,103.39 L471.80,104.27 L472.20,105.14 L472.60,106.00 L473.00,106.87 L473.40,107.73 L473.80,108.59 L474.20,109.46 L474.60,110.34 L475.00,111.22 L475.40,112.10 L475.80,112.99 L476.20,113.89 L476.60,114.79 L477.00,115.69 L477.40,116.61 L477.80,117.52 L478.20,118.44 L478.60,119.37 L479.00,120.30 L479.40,121.25 L479.80,122.20 L480.20,123.17 L480.60,124.15 L481.00,125.15 L481.40,126.16 L481.80,127.19 L482.20,128.23 L482.60,129.28 L483.00,130.34 L483.40,131.41 L483.80,132.48 L484.20,133.56 L484.60,134.64 L485.00,135.72 L485.40,136.79 L485.80,137.86 L486.20,138.91 L486.60,139.94 L487.00,140.95 L487.40,141.95 L487.80,142.94 L488.20,143.90 L488.60,144.86 L489.00,145.81 L489.40,146.75 L489.80,147.68 L490.20,148.61 L490.60,149.53 L491.00,150.45 L491.40,151.36 L491.80,152.27 L492.20,153.19 L492.60,154.10 L493.00,155.01 L493.40,155.92 L493.80,156.84 L494.20,157.75 L494.60,158.67 L495.00,159.58 L495.40,160.49 L495.80,161.41 L496.20,162.32 L496.60,163.22 L497.00,164.13 L497.40,165.03 L497.80,165.93 L498.20,166.83 L498.60,167.73 L499.00,168.62 L499.40,169.50 L499.80,170.39 L500.20,171.27 L500.60,172.14 L501.00,173.00 L501.40,173.86 L501.80,174.71 L502.20,175.55 L502.60,176.37 L503.00,177.19 L503.40,178.00 L503.80,178.80 L504.20,179.59 L504.60,180.37 L505.00,181.14 L505.40,181.90 L505.80,182.65 L506.20,183.39 L506.60,184.13 L507.00,184.86 L507.40,185.58 L507.80,186.30 L508.20,187.01 L508.60,187.72 L509.00,188.43 L509.40,189.13 L509.80,189.84 L510.20,190.54 L510.60,191.25 L511.00,191.95 L511.40,192.66 L511.80,193.36 L512.20,194.07 L512.60,194.77 L513.00,195.47 L513.40,196.16 L513.80,196.85 L514.20,197.54 L514.60,198.22 L515.00,198.90 L515.40,199.57 L515.80,200.24 L516.20,200.91 L516.60,201.57 L517.00,202.22 L517.40,202.87 L517.80,203.52 L518.20,204.16 L518.60,204.80 L519.00,205.43 L519.40,206.06 L519.80,206.69 L520.20,207.30 L520.60,207.92 L521.00,208.52 L521.40,209.12 L521.80,209.70 L522.20,210.28 L522.60,210.85 L523.00,211.40 L523.40,211.94 L523.80,212.47 L524.20,212.98 L524.60,213.48 L525.00,213.98 L525.40,214.46 L525.80,214.93 L526.20,215.40 L526.60,215.85 L527.00,216.30 L527.60,216.96 L528.20,217.60 L528.80,218.24 L529.40,218.87 L530.00,219.50 L530.60,220.13 L531.20,220.77 L531.80,221.40 L532.40,222.04 L533.00,222.68 L533.60,223.31 L534.20,223.94 L534.80,224.56 L535.40,225.18 L536.00,225.79 L536.60,226.39 L537.20,226.99 L537.80,227.57 L538.40,228.14 L539.00,228.70 L539.60,229.24 L540.20,229.77 L540.80,230.29 L541.40,230.79 L542.00,231.28 L542.60,231.76 L543.20,232.22 L543.80,232.67 L544.40,233.11 L545.00,233.53 L545.60,233.94 L546.20,234.34 L546.80,234.73 L547.40,235.11 L548.00,235.48 L548.60,235.84 L549.20,236.19 L549.80,236.53 L550.40,236.87 L551.00,237.19 L551.60,237.52 L552.20,237.83 L552.80,238.14 L553.40,238.44 L554.00,238.74 L554.60,239.03 L555.20,239.32 L555.80,239.61 L556.40,239.89 L557.00,240.17 L557.60,240.44 L558.20,240.71 L558.80,240.98 L559.40,241.24 L560.00,241.50 L560.60,241.75 L561.20,242.00 L561.80,242.25 L562.40,242.49 L563.00,242.73 L563.60,242.97 L564.20,243.20 L564.80,243.43 L565.40,243.65 L566.00,243.87 L566.60,244.09 L567.20,244.30 L567.80,244.51 L568.40,244.72 L569.00,244.92 L569.60,245.12 L570.20,245.32 L570.80,245.51 L571.40,245.70 L572.00,245.89 L572.60,246.07 L573.20,246.26 L573.80,246.44 L574.40,246.62 L575.00,246.80 L575.60,246.98 L576.20,247.16 L576.80,247.33 L577.40,247.51 L578.00,247.68 L578.60,247.86 L579.20,248.03 L579.80,248.21 L580.40,248.38 L581.00,248.56 L581.60,248.73 L582.20,248.90 L582.80,249.08 L583.40,249.25 L584.00,249.43 L584.60,249.60 L585.20,249.78 L585.80,249.95 L586.40,250.12 L587.00,250.30 L587.60,250.47 L588.20,250.65 L588.80,250.82 L589.40,250.99 L590.00,251.17 L590.60,251.34 L591.20,251.52 L591.80,251.69 L592.40,251.86 L593.00,252.04 L593.60,252.21 L593.80,252.27" stroke="#7f1ff5"/>
<path d="M351.20,81.19 L351.80,81.60 L352.40,82.00 L353.00,82.40 L353.60,82.81 L354.20,83.21 L354.80,83.62 L355.40,84.03 L356.00,84.44 L356.60,84.86 L357.20,85.27 L357.80,85.68 L358.40,86.09 L359.00,86.50 L359.60,86.90 L360.20,87.30 L360.80,87.68 L361.40,88.07 L362.00,88.44 L362.60,88.81 L363.20,89.18 L363.80,89.54 L364.40,89.90 L365.00,90.25 L365.60,90.60 L366.20,90.95 L366.80,91.30 L367.40,91.64 L368.00,91.98 L368.60,92.32 L369.20,92.65 L369.80,92.98 L370.40,93.30 L371.00,93.63 L371.60,93.96 L372.20,94.30 L372.80,94.65 L373.40,95.00 L374.00,95.36 L374.60,95.71 L375.20,96.07 L375.80,96.42 L376.40,96.77 L377.00,97.10 L377.60,97.43 L378.20,97.75 L378.80,98.06 L379.40,98.36 L380.00,98.64 L380.60,98.91 L381.20,99.16 L381.80,99.39 L382.40,99.61 L383.00,99.82 L383.60,100.01 L384.20,100.19 L384.80,100.36 L385.40,100.52 L386.00,100.67 L386.60,100.81 L387.20,100.95 L387.80,101.08 L388.40,101.20 L389.00,101.31 L389.60,101.41 L390.20,101.51 L390.80,101.60 L391.40,101.68 L392.00,101.75 L392.60,101.81 L393.20,101.85 L393.80,101.87 L394.40,101.88 L395.00,101.86 L395.60,101.82 L396.20,101.75 L396.80,101.66 L397.40,101.55 L398.00,101.40 L398.60,101.23 L399.20,101.04 L399.80,100.82 L400.40,100.57 L401.00,100.29 L401.60,99.99 L402.20,99.66 L402.80,99.31 L403.40,98.93 L404.00,98.53 L404.60,98.10 L405.20,97.66 L405.80,97.19 L406.40,96.70 L407.00,96.18 L407.60,95.65 L408.20,95.09 L408.80,94.52 L409.40,93.92 L410.00,93.30 L410.60,92.66 L411.20,92.00 L411.60,91.54 L412.00,91.08 L412.40,90.60 L412.80,90.12 L413.20,89.62 L413.60,89.11 L414.00,88.60 L414.40,88.07 L414.80,87.52 L415.20,86.97 L415.60,86.40 L416.00,85.82 L416.40,85.23 L416.80,84.63 L417.20,84.02 L417.60,83.40 L418.00,82.77 L418.40,82.14 L418.80,81.50 L419.20,80.87 L419.60,80.23 L420.00,79.60 L420.40,78.97 L420.80,78.35 L421.20,77.73 L421.60,77.12 L422.00,76.51 L422.40,75.90 L422.80,75.30 L423.20,74.70 L423.60,74.11 L424.00,73.53 L424.40,72.95 L424.80,72.37 L425.20,71.80 L425.60,71.24 L426.00,70.68 L426.40,70.12 L426.80,69.57 L427.20,69.03 L427.60,68.49 L428.00,67.95 L428.40,67.42 L428.80,66.89 L429.20,66.37 L429.60,65.86 L430.00,65.36 L430.40,64.86 L430.80,64.38 L431.20,63.90 L431.60,63.43 L432.00,62.98 L432.60,62.32 L433.20,61.69 L433.80,61.10 L434.40,60.53 L435.00,60.00 L435.60,59.50 L436.20,59.04 L436.80,58.61 L437.40,58.21 L438.00,57.85 L438.60,57.51 L439.20,57.20 L439.80,56.91 L440.40,56.64 L441.00,56.39 L441.60,56.17 L442.20,55.96 L442.80,55.76 L443.40,55.58 L444.00,55.42 L444.60,55.26 L445.20,55.11 L445.80,54.98 L446.40,54.84 L447.00,54.72 L447.60,54.60 L448.20,54.48 L448.80,54.38 L449.40,54.29 L450.00,54.21 L450.60,54.15 L451.20,54.10 L451.80,54.07 L452.40,54.06 L453.00,54.06 L453.60,54.09 L454.20,54.14 L454.80,54.20 L455.40,54.29 L456.00,54.40 L456.60,54.53 L457.20,54.69 L457.80,54.86 L458.40,55.06 L459.00,55.27 L459.60,55.51 L460.20,55.76 L460.80,56.03 L461.40,56.33 L462.00,56.65 L462.60,56.99 L463.20,57.36 L463.80,57.75 L464.40,58.17 L465.00,58.62 L465.60,59.08 L466.20,59.56 L466.80,60.05 L467.40,60.55 L468.00,61.05 L468.60,61.55 L469.20,62.05 L469.80,62.54 L470.40,63.03 L471.00,63.52 L471.60,64.01 L472.20,64.51 L472.80,65.03 L473.40,65.57 L474.00,66.13 L474.60,66.71 L475.20,67.31 L475.80,67.93 L476.40,68.56 L477.00,69.21 L477.60,69.87 L478.20,70.54 L478.60,70.99 L479.00,71.44 L479.40,71.89 L479.80,72.35 L480.20,72.72 L480.60,72.99 L481.00,74.15 L481.40,74.33 L481.80,74.85 L482.20,75.14 L482.60,75.31 L483.00,75.80 L483.40,76.34 L483.80,76.78 L484.20,77.25 L484.60,78.27 L485.00,78.03 L485.40,78.56 L485.80,78.90 L486.20,79.81 L486.60,79.98 L487.00,80.31 L487.40,81.50 L487.80,81.50 L488.20,82.02 L488.60,82.60 L489.20,83.21 L489.80,83.69 L490.40,84.36 L491.00,85.09 L491.60,85.74 L492.20,86.13 L492.80,87.13 L493.40,87.54 L494.00,88.59 L494.60,89.45 L495.00,89.64 L495.40,90.20 L495.80,90.50 L496.20,90.78 L496.60,90.55 L497.00,91.23 L497.40,92.05 L497.80,92.54 L498.20,93.44 L498.60,93.47 L499.00,93.97 L499.40,94.39 L499.80,94.81 L500.20,95.66 L500.60,96.68 L501.00,96.44 L501.40,97.12 L501.80,97.87 L502.20,98.09 L502.60,98.51 L503.00,99.32 L503.40,99.74 L503.80,100.26 L504.20,100.46 L504.60,101.31 L505.00,101.83 L505.40,102.32 L505.80,103.07 L506.20,103.35 L506.60,103.63 L507.00,104.51 L507.40,104.73 L507.80,105.29 L508.20,105.97 L508.60,106.08 L509.00,107.30 L509.40,107.42 L509.80,108.23 L510.20,108.54 L510.60,109.26 L511.00,109.28 L511.40,110.15 L511.80,110.90 L512.20,110.76 L512.60,111.84 L513.00,112.23 L513.40,112.53 L513.80,113.34 L514.20,113.59 L514.60,113.74 L515.00,114.62 L515.40,114.80 L515.80,115.50 L516.20,115.74 L516.60,115.94 L517.00,116.70 L517.40,117.44 L517.80,117.38 L518.20,118.59 L518.60,118.71 L519.00,119.33 L519.40,119.73 L519.80,120.30 L520.20,120.45 L520.60,120.70 L521.00,121.23 L521.40,122.04 L521.80,122.26 L522.20,122.96 L522.60,123.36 L523.00,124.06 L523.40,124.09 L523.80,124.28 L524.20,125.45 L524.60,125.68 L525.00,125.65 L525.40,126.46 L525.80,127.56 L526.40,127.32 L527.00,128.62 L527.60,128.92 L528.20,129.18 L528.80,130.25 L529.40,130.91 L530.00,131.72 L530.60,131.86 L531.20,132.98 L531.80,133.24 L532.40,133.29 L533.00,134.33 L533.60,134.53 L534.20,135.16 L534.80,135.80 L535.40,136.45 L536.00,137.07 L536.60,137.26 L537.20,138.19 L537.80,138.29 L538.40,138.86 L539.00,139.44 L539.60,139.63 L540.20,140.00 L540.80,141.24 L541.40,141.58 L542.00,142.38 L542.60,142.95 L543.20,142.81 L543.80,143.92 L544.40,144.31 L545.00,144.37 L545.60,145.52 L546.20,146.25 L546.80,146.84 L547.40,147.29 L548.00,147.77 L548.60,147.79 L549.20,148.91 L549.80,149.25 L550.40,149.39 L551.00,151.21 L551.60,150.86 L552.20,151.54 L552.80,151.90 L553.40,152.56 L554.00,152.74 L554.60,153.42 L555.20,153.87 L555.80,154.38 L556.40,154.76 L557.00,156.18 L557.60,155.77 L558.20,156.46 L558.80,157.35 L559.40,157.11 L560.00,158.36 L560.60,157.97 L561.20,158.75 L561.80,159.08 L562.40,159.30 L563.00,159.91 L563.60,160.15 L564.20,160.69 L564.80,161.09 L565.40,161.51 L566.00,161.60 L566.60,162.34 L567.20,162.71 L567.80,163.41 L568.40,163.54 L569.00,163.89 L569.60,164.45 L570.20,164.39 L570.80,164.92 L571.40,165.65 L572.00,165.71 L572.60,166.08 L573.20,166.57 L573.80,166.83 L574.40,166.97 L575.00,167.44 L575.60,168.05 L576.20,168.23 L576.80,168.38 L577.40,168.78 L578.00,169.47 L578.60,169.84 L579.20,170.24 L579.80,171.00 L580.40,170.74 L581.00,171.37 L581.60,172.61 L582.20,172.26 L582.80,173.01 L583.40,173.44 L584.00,173.96 L584.60,174.65 L585.20,174.93 L585.80,175.10 L586.40,175.73 L587.00,176.18 L587.60,176.21 L588.20,176.74 L588.80,176.81 L589.40,177.47 L590.00,177.69 L590.60,178.16 L591.20,177.72 L591.80,178.29 L592.40,179.01 L593.00,179.10 L593.60,179.06 L593.80,179.24" stroke="#1111d0"/>
</g>
<text x="366.0" y="36.5" font-size="15.6" text-anchor="start" fill="#000" font-weight="bold" font-family='"Liberation Serif", serif' >B</text>
<text x="403.3" y="29.4" font-size="16.8" text-anchor="start" fill="#000" font-weight="bold" font-family='"Liberation Serif", serif' textLength="86.8" lengthAdjust="spacingAndGlyphs" >Temperature</text>
<path d="M403.8,40.6 L494,40.6 M488.8,36.6 L494.8,40.6 L488.8,44.6" fill="none" stroke="#000" stroke-width="2.3" stroke-linecap="round" stroke-linejoin="miter"/>
<path d="M512.6,29.30 L520.1,29.30" stroke="#222222" stroke-width="1.1" stroke-dasharray="2.1,0.7"/>
<text x="522.3" y="31.9" font-size="9.0" text-anchor="start" fill="#222222" font-weight="normal" font-family='"Liberation Sans", sans-serif' textLength="22.0" lengthAdjust="spacingAndGlyphs" >Fe<tspan font-size="6.12" dy="2.4">3</tspan><tspan dy="-2.4">O</tspan><tspan font-size="6.12" dy="2.4">4</tspan></text>
<path d="M512.6,42.45 L520.1,42.45" stroke="#ff1a1a" stroke-width="1.1" stroke-dasharray="2.1,0.7"/>
<text x="522.3" y="45.05" font-size="9.0" text-anchor="start" fill="#ff1a1a" font-weight="normal" font-family='"Liberation Sans", sans-serif' textLength="65.6" lengthAdjust="spacingAndGlyphs" >Fe<tspan font-size="6.12" dy="2.4">3</tspan><tspan dy="-2.4">O</tspan><tspan font-size="6.12" dy="2.4">4</tspan><tspan dy="-2.4">@Au 190 °C</tspan></text>
<path d="M512.6,55.60 L520.1,55.60" stroke="#8a2c2c" stroke-width="1.1" stroke-dasharray="2.1,0.7"/>
<text x="522.3" y="58.2" font-size="9.0" text-anchor="start" fill="#8a2c2c" font-weight="normal" font-family='"Liberation Sans", sans-serif' textLength="65.6" lengthAdjust="spacingAndGlyphs" >Fe<tspan font-size="6.12" dy="2.4">3</tspan><tspan dy="-2.4">O</tspan><tspan font-size="6.12" dy="2.4">4</tspan><tspan dy="-2.4">@Au 210 °C</tspan></text>
<path d="M512.6,68.75 L520.1,68.75" stroke="#77771a" stroke-width="1.1" stroke-dasharray="2.1,0.7"/>
<text x="522.3" y="71.35" font-size="9.0" text-anchor="start" fill="#77771a" font-weight="normal" font-family='"Liberation Sans", sans-serif' textLength="65.6" lengthAdjust="spacingAndGlyphs" >Fe<tspan font-size="6.12" dy="2.4">3</tspan><tspan dy="-2.4">O</tspan><tspan font-size="6.12" dy="2.4">4</tspan><tspan dy="-2.4">@Au 230 °C</tspan></text>
<path d="M512.6,81.90 L520.1,81.90" stroke="#8833e8" stroke-width="1.1" stroke-dasharray="2.1,0.7"/>
<text x="522.3" y="84.5" font-size="9.0" text-anchor="start" fill="#8833e8" font-weight="normal" font-family='"Liberation Sans", sans-serif' textLength="65.6" lengthAdjust="spacingAndGlyphs" >Fe<tspan font-size="6.12" dy="2.4">3</tspan><tspan dy="-2.4">O</tspan><tspan font-size="6.12" dy="2.4">4</tspan><tspan dy="-2.4">@Au 250 °C</tspan></text>
<path d="M512.6,95.05 L520.1,95.05" stroke="#2f4fe0" stroke-width="1.1" stroke-dasharray="2.1,0.7"/>
<text x="522.3" y="97.65" font-size="9.0" text-anchor="start" fill="#2f4fe0" font-weight="normal" font-family='"Liberation Sans", sans-serif' textLength="65.6" lengthAdjust="spacingAndGlyphs" >Fe<tspan font-size="6.12" dy="2.4">3</tspan><tspan dy="-2.4">O</tspan><tspan font-size="6.12" dy="2.4">4</tspan><tspan dy="-2.4">@Au 270 °C</tspan></text>
</svg></body></html>
